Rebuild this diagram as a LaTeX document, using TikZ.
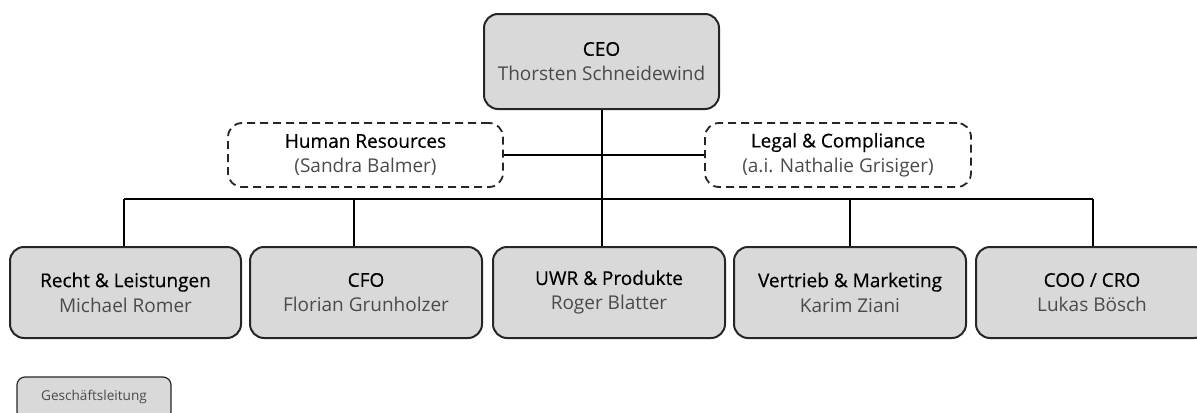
\documentclass[tikz,border=0pt]{standalone}
\usepackage{fontspec}
\setmainfont{Open Sans}
\newfontfamily\titlefont[FakeBold=0.5]{Open Sans}
\definecolor{boxfill}{HTML}{D9D9D9}
\definecolor{boxline}{HTML}{262626}
\definecolor{namegray}{HTML}{4A4A4A}
\newcommand{\ttl}[1]{{\titlefont #1}}
\begin{document}
\begin{tikzpicture}[x=0.5pt,y=-0.5pt,
  orgbox/.style={draw=boxline,line width=1pt,fill=boxfill,rounded corners=7pt,align=center,font=\fontsize{9.5}{12.5}\selectfont,inner sep=0pt},
  staffbox/.style={draw=boxline,line width=0.9pt,dash pattern=on 4pt off 2.5pt,rounded corners=7pt,align=center,font=\fontsize{9.5}{12.5}\selectfont,inner sep=0pt},
  conn/.style={draw=black,line width=1pt}]
\useasboundingbox (0,0) rectangle (1197,412);
\node[orgbox,minimum width=117.5pt,minimum height=47.5pt] (ceo) at (601.5,61.5) {\ttl{CEO}\\\textcolor{namegray}{Thorsten Schneidewind}};
\node[staffbox,minimum width=137.5pt,minimum height=32pt] (hr) at (365.5,155) {\ttl{Human Resources}\\\textcolor{namegray}{(Sandra Balmer)}};
\node[staffbox,minimum width=133pt,minimum height=32pt] (legal) at (838,155) {\ttl{Legal \& Compliance}\\\textcolor{namegray}{(a.i. Nathalie Grisiger)}};
\node[orgbox,minimum width=115.5pt,minimum height=45.5pt] (b1) at (125.5,292.5) {\ttl{Recht \& Leistungen}\\\textcolor{namegray}{Michael Romer}};
\node[orgbox,minimum width=116pt,minimum height=45.5pt] (b2) at (366,292.5) {\ttl{CFO}\\\textcolor{namegray}{Florian Grunholzer}};
\node[orgbox,minimum width=116pt,minimum height=45.5pt] (b3) at (609,292.5) {\ttl{UWR \& Produkte}\\\textcolor{namegray}{Roger Blatter}};
\node[orgbox,minimum width=116pt,minimum height=45.5pt] (b4) at (850,292.5) {\ttl{Vertrieb \& Marketing}\\\textcolor{namegray}{Karim Ziani}};
\node[orgbox,minimum width=116pt,minimum height=45.5pt] (b5) at (1092,292.5) {\ttl{COO / CRO}\\\textcolor{namegray}{Lukas Bösch}};
\node[orgbox,rounded corners=4pt,line width=0.6pt,minimum width=77pt,minimum height=21.5pt,font=\fontsize{6.8}{8}\selectfont] (leg) at (94,398.5) {\raisebox{3.2pt}{\textcolor{namegray}{Geschäftsleitung}}};
\coordinate (bus1) at (124,199);
\coordinate (bus2) at (354,199);
\coordinate (bus4) at (850,199);
\coordinate (bus5) at (1093,199);
\draw[conn] (ceo.south) -- (ceo.south |- b3.north);
\draw[conn] (hr.east) -- (legal.west);
\draw[conn] (bus1) -- (bus5);
\draw[conn] (bus1) -- (bus1 |- b1.north);
\draw[conn] (bus2) -- (bus2 |- b2.north);
\draw[conn] (bus4) -- (bus4 |- b4.north);
\draw[conn] (bus5) -- (bus5 |- b5.north);
\end{tikzpicture}
\end{document}
